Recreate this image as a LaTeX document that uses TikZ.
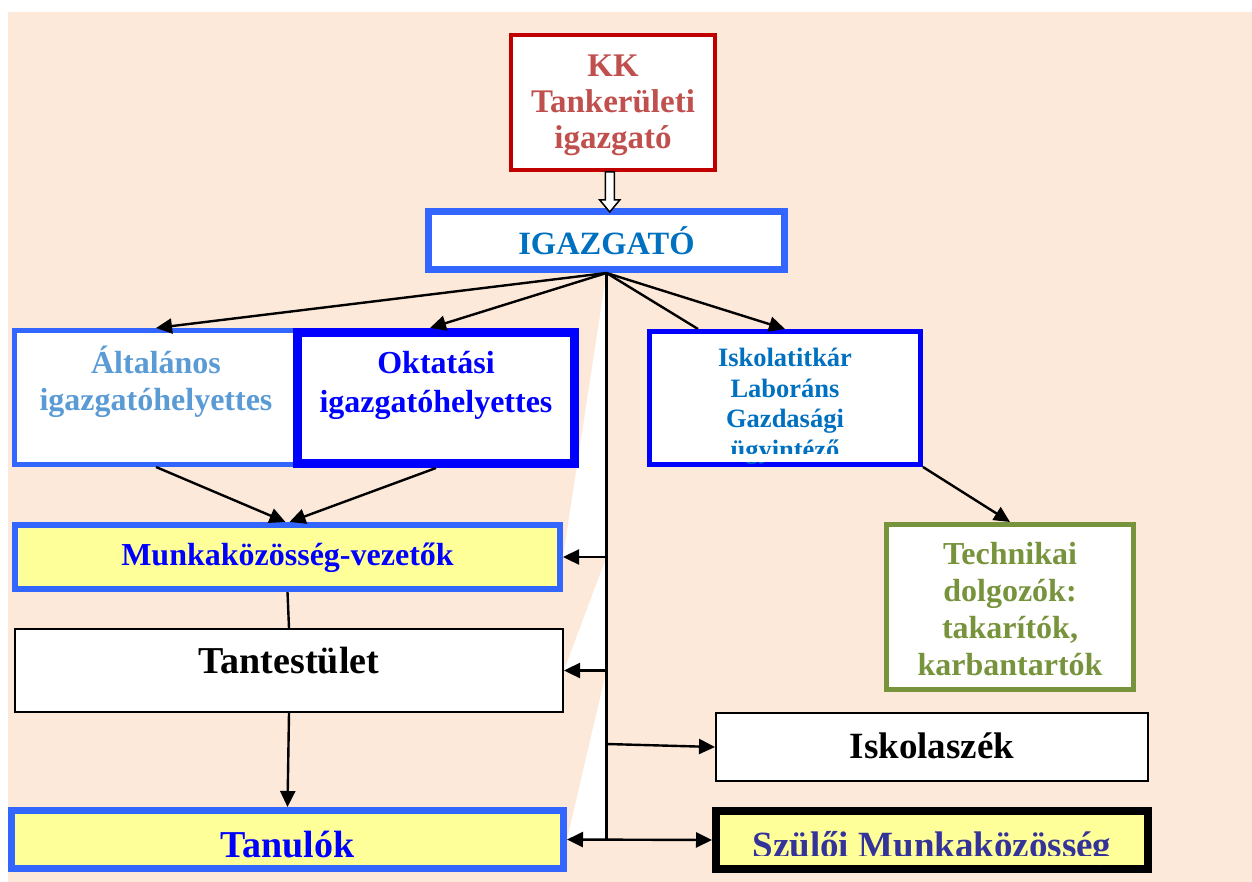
\documentclass[tikz,border=0pt]{standalone}
\usepackage{fontspec}
\setmainfont{Liberation Serif}
\usetikzlibrary{arrows.meta,calc,backgrounds}
\definecolor{peach}{HTML}{FDE9D9}
\definecolor{kkred}{HTML}{C00000}
\definecolor{kktext}{HTML}{C0504D}
\definecolor{lightblue}{HTML}{3366FF}
\definecolor{midblue}{HTML}{0070C0}
\definecolor{pureblue}{HTML}{0000FF}
\definecolor{altblue}{HTML}{5B9BD5}
\definecolor{lemon}{HTML}{FFFF99}
\definecolor{olive}{HTML}{77933C}
\definecolor{navy}{HTML}{333399}
\newcommand{\boxfont}[2]{\fontsize{#1}{#2}\selectfont\bfseries}

\begin{document}
\begin{tikzpicture}
    [
      x=1pt, y=-1pt,
      line width=2.4pt,
      >={Triangle[length=16pt,width=15pt]},
      box/.style=
      {
        align=center,
        inner sep=2pt,
        fill=white,
        draw,
      },
      lift/.style={text height=0pt, text depth=#1},
      sink/.style={text height=#1, text depth=0pt},
    ]
    \useasboundingbox (0,0) rectangle (1252,882);

    \node[box, draw=kkred, text=kktext, line width=4pt, minimum width=204pt,
          minimum height=135pt, sink=93pt, font=\boxfont{33}{36}]
          (kk) at (613,102.5) {KK\\Tankerületi\\igazgató};
    \node[box, draw=lightblue, text=midblue, line width=7pt, minimum width=356pt,
          minimum height=58pt, sink=29pt, font=\boxfont{32.5}{38}]
          (igaz) at (606.5,240.5) {IGAZGATÓ};

    \node[box, draw=lightblue, text=altblue, line width=5pt, minimum width=283pt,
          minimum height=134pt, sink=25pt, font=\boxfont{32}{37}]
          (alt) at (156,397.5) {Általános\\igazgatóhelyettes};
    \node[box, draw=pureblue, text=pureblue, line width=9pt, minimum width=277pt,
          minimum height=131pt, sink=28pt, font=\boxfont{32}{39}]
          (okt) at (436,398) {Oktatási\\igazgatóhelyettes};
    \node[box, draw=pureblue, text=midblue, line width=5pt, minimum width=271pt,
          minimum height=133pt, sink=120pt, font=\boxfont{26.5}{30.5}]
          (titk) at (785,398) {Iskolatitkár\\Laboráns\\Gazdasági\\ügyintéző};

    \node[box, draw=lightblue, fill=lemon, text=pureblue, line width=6pt, minimum width=545pt,
          minimum height=64pt, sink=16pt, font=\boxfont{32}{38}]
          (munka) at (287.5,557) {Munkaközösség-vezetők};
    \node[box, line width=2pt, minimum width=548pt,
          minimum height=83pt, sink=5pt, font=\boxfont{38}{42}]
          (tant) at (289,670.5) {Tantestület};
    \node[box, draw=lightblue, fill=lemon, text=pureblue, line width=7pt, minimum width=552pt,
          minimum height=58pt, sink=35pt, font=\boxfont{38}{42}]
          (tanul) at (287.5,839.5) {Tanulók};

    \node[box, draw=olive, text=olive, line width=5pt, minimum width=247pt,
          minimum height=165pt, sink=136pt, font=\boxfont{32}{36.7}]
          (tech) at (1010,607) {Technikai\\dolgozók:\\takarítók,\\karbantartók};
    \node[box, line width=2pt, minimum width=432pt,
          minimum height=68pt, sink=22pt, font=\boxfont{37}{42}]
          (szek) at (932,747) {Iskolaszék};
    \node[box, fill=lemon, text=navy, line width=8pt, minimum width=432pt,
          minimum height=58pt, sink=34pt, font=\boxfont{37}{42}]
          (szul) at (932,840) {Szülői Munkaközösség};

    % cut-off text at the bottom of two boxes
    \fill[white] ($(titk.south west)+(5,-5)$) rectangle ($(titk.south east)+(-5,-13)$);
    \fill[lemon] ($(szul.south west)+(8,-8)$) rectangle ($(szul.south east)+(-8,-17)$);

    \coordinate (kkmid) at ($(kk.south)!0.5!(igaz.north)$);
    \draw[line width=1.5pt, fill=white] ($(kkmid)+(-4.5,-18)$) -- ++(0,28) -- ++(-5.5,0)
      -- ++(10,12) -- ++(10,-12) -- ++(-5.5,0) -- ++(0,-28) -- cycle;

    \draw[->] (igaz.south) -- (alt.north);
    \draw[->] (igaz.south) -- ([xshift=-6pt]okt.north);
    \draw (igaz.south) -- ($(titk.north west)+(51,0)$);
    \draw[->] (igaz.south) -- (titk.north);
    \draw (igaz.south) -- (igaz.south |- tanul.east);

    \draw[->] (igaz.south |- munka.east) -- (munka.east);
    \draw[->] (igaz.south |- tant.east) -- (tant.east);
    \draw[->] ($(igaz.south |- szek.west)+(0,-3)$) -- (szek.west);
    \draw[<->] (tanul.east) -- (szul.west);

    \draw[->] (alt.south) -- ([xshift=-2pt]munka.north);
    \draw[->] (okt.south) -- ([xshift=2pt]munka.north);
    \draw (munka.south) -- (tant.north);
    \draw[->] (tant.south) -- (tanul.north);
    \draw[->] (titk.south east) -- (tech.north);

    \begin{scope}[on background layer]
      \fill[peach] (8,12) rectangle (1252,882);
      \fill[white] (igaz.south) -- (munka.east) -- (igaz.south |- munka.east) -- cycle;
      \fill[white] (igaz.south |- munka.east) -- (tant.east) -- (igaz.south |- tant.east) -- cycle;
      \fill[white] (igaz.south |- tant.east) -- (tanul.east) -- (igaz.south |- tanul.east) -- cycle;
    \end{scope}
\end{tikzpicture}
\end{document}
